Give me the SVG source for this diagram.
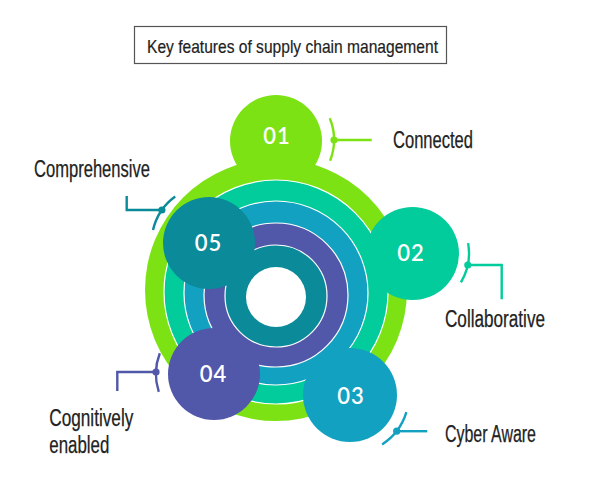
<svg xmlns="http://www.w3.org/2000/svg" width="600" height="500" viewBox="0 0 600 500">
<defs>
<style>
.lbl{font-family:"Liberation Sans",Arial,sans-serif;font-size:23px;fill:#222;stroke:#222;stroke-width:0.25;}
.ttl{font-family:"Liberation Sans",Arial,sans-serif;font-size:18.5px;fill:#222;stroke:#222;stroke-width:0.2;}
.num{font-family:Lato,"Open Sans",sans-serif;font-size:22px;font-weight:600;fill:#fff;text-anchor:middle;letter-spacing:1px;}
.ring{stroke:#fff;stroke-width:1.2;}
.con{fill:none;stroke-width:2.4;}
.g{fill:#7de213;} .tg{fill:#02cc9b;} .bl{fill:#12a1c1;} .pu{fill:#5157a9;} .te{fill:#0b8b99;}
</style>
</defs>
<rect width="600" height="500" fill="#fff"/>
<g id="title">
<rect x="134.5" y="26.5" width="312" height="37" fill="#fff" stroke="#555" stroke-width="1.2"/>
<text class="ttl" x="147" y="53.3" textLength="291" lengthAdjust="spacingAndGlyphs">Key features of supply chain management</text>
</g>
<g id="node-01-shape">
<circle class="g" cx="276" cy="141" r="46"/>
</g>
<g id="hub">
<circle class="g" cx="276" cy="290" r="131"/>
<circle class="tg ring" cx="276" cy="292" r="112"/>
<circle class="bl ring" cx="276" cy="293" r="92"/>
<circle class="pu ring" cx="276" cy="295" r="72"/>
<circle class="te ring" cx="276" cy="296" r="51"/>
<circle cx="276" cy="297" r="30" fill="#fff"/>
</g>
<g id="node-01">
<text class="num" x="277" y="144">01</text>
<text class="lbl" x="393" y="147.5" textLength="80" lengthAdjust="spacingAndGlyphs">Connected</text>
</g>
<g id="node-02">
<circle class="tg" cx="412.5" cy="253.5" r="46.5"/>
<text class="num" x="411" y="261">02</text>
<text class="lbl" x="445" y="326.7" textLength="100" lengthAdjust="spacingAndGlyphs">Collaborative</text>
</g>
<g id="node-03">
<circle class="bl" cx="350" cy="395" r="47"/>
<text class="num" x="351" y="404">03</text>
<text class="lbl" x="445" y="441.7" textLength="91" lengthAdjust="spacingAndGlyphs">Cyber Aware</text>
</g>
<g id="node-04">
<circle class="pu" cx="214" cy="374" r="46"/>
<text class="num" x="213.5" y="381.5">04</text>
<text class="lbl" x="49.3" y="426" textLength="84" lengthAdjust="spacingAndGlyphs">Cognitively</text>
<text class="lbl" x="49.3" y="452.7" textLength="60" lengthAdjust="spacingAndGlyphs">enabled</text>
</g>
<g id="node-05">
<circle class="te" cx="209" cy="243" r="46"/>
<text class="num" x="208.5" y="251">05</text>
<text class="lbl" x="34" y="177.3" textLength="116" lengthAdjust="spacingAndGlyphs">Comprehensive</text>
</g>
<g id="connectors">
<g stroke="#7de213" fill="#7de213">
<path class="con" d="M329.8 118.3 A58 58 0 0 1 330.1 160.8"/>
<path class="con" d="M334 140 H371.7"/>
<circle cx="334" cy="140" r="3.6" stroke="none"/>
</g>
<g stroke="#02cc9b" fill="#02cc9b">
<path class="con" d="M468.1 243.1 A57 57 0 0 1 460.9 282.4"/>
<path class="con" d="M467.8 265 H501.7 V299.3"/>
<circle cx="467.8" cy="265" r="3.6" stroke="none"/>
</g>
<g stroke="#12a1c1" fill="#12a1c1">
<path class="con" d="M406.4 412.2 A59 59 0 0 1 382.1 444.5"/>
<path class="con" d="M396.7 431.2 H427.3"/>
<circle cx="396.7" cy="431.2" r="3.6" stroke="none"/>
</g>
<g stroke="#5157a9" fill="#5157a9">
<path class="con" d="M158.8 391.9 A58 58 0 0 1 159.8 353.2"/>
<path class="con" d="M156 372 H117.3 V391"/>
<circle cx="156" cy="372" r="3.6" stroke="none"/>
</g>
<g stroke="#0b8b99" fill="#0b8b99">
<path class="con" d="M153 230.1 A57.5 57.5 0 0 1 175.2 196.5"/>
<path class="con" d="M161.9 210 H126.7 V196"/>
<circle cx="161.9" cy="210" r="3.6" stroke="none"/>
</g>
</g>
</svg>
